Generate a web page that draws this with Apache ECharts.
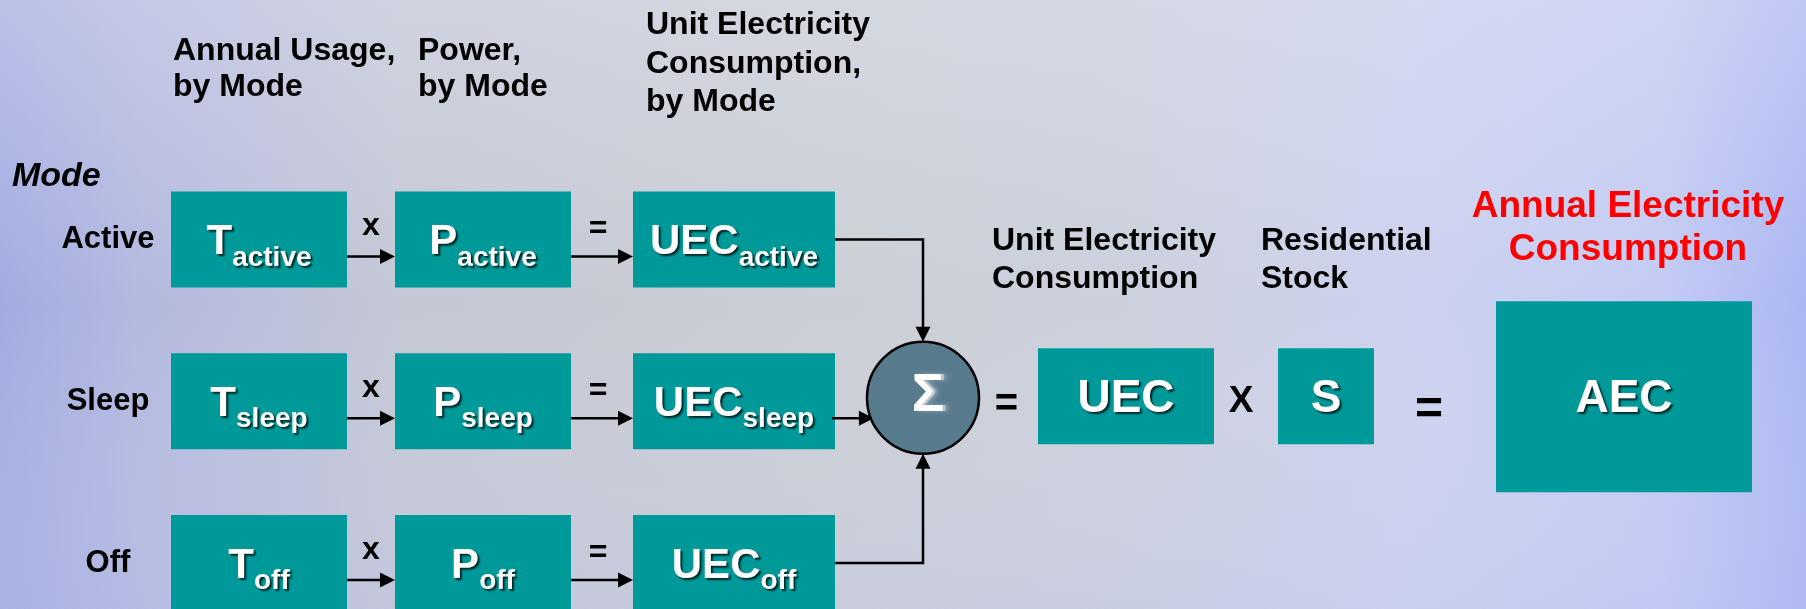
<!DOCTYPE html>
<html><head><meta charset="utf-8">
<script src="https://cdn.jsdelivr.net/npm/echarts@6/dist/echarts.min.js"></script>
<style>html,body{margin:0;padding:0;background:#c8cbd6;}#chart{width:1806px;height:609px;}</style>
</head><body><div id="chart"></div>
<script>
// ---- content ----
const modes = ['Active', 'Sleep', 'Off'];
const modeSubscripts = ['active', 'sleep', 'off'];
const factorSymbols = ['T', 'P', 'UEC'];
const factorHeaders = ['Annual Usage,\nby Mode', 'Power,\nby Mode', 'Unit Electricity\nConsumption,\nby Mode'];
const rowOperators = ['x', '='];
const modeTitle = 'Mode';
const sumSymbol = 'Σ';
const totalSymbols = ['UEC', 'S', 'AEC'];
const totalHeaders = ['Unit Electricity\nConsumption', 'Residential\nStock', 'Annual Electricity\nConsumption'];
const totalOperators = ['=', 'X', '='];

// ---- layout / style ----
const FONT = '"Liberation Sans", Arial, Helvetica, sans-serif';
const TEAL = '#009999';
const BOX_H = 96;
const COLS = [{x: 171, w: 176}, {x: 395, w: 176}, {x: 633, w: 202}];
const HUB_X = 923, HUB_R = 56;
const GRID_LEFT = 170;
const HEAD_L = 15, HEAD_W = 7.5;

const mctx = document.createElement('canvas').getContext('2d');
function tw(t, size) { mctx.font = 'bold ' + size + 'px ' + FONT; return mctx.measureText(t).width; }
const SHADOW = {textShadowColor: 'rgba(0,0,0,0.75)', textShadowBlur: 2, textShadowOffsetX: 2, textShadowOffsetY: 2};
function whiteText(t, x, y, size, align) {
  return {type: 'text', style: Object.assign({text: t, x: x, y: y, font: 'bold ' + size + 'px ' + FONT,
    fill: '#fff', align: align || 'center', verticalAlign: 'middle'}, SHADOW)};
}
function blackText(t, x, y, size, align) {
  return {type: 'text', style: {text: t, x: x, y: y, font: 'bold ' + size + 'px ' + FONT,
    fill: '#000', align: align || 'center', verticalAlign: 'middle'}};
}
function subLabel(main, sub, cx, rc) {
  const w1 = tw(main, 42), w2 = tw(sub, 28);
  const left = cx - (w1 + w2) / 2;
  return [whiteText(main, left, rc + 3, 42, 'left'), whiteText(sub, left + w1, rc + 18.5, 28, 'left')];
}
function arrowHead(x2, y2, ux, uy) {
  const bx = x2 - ux * HEAD_L, by = y2 - uy * HEAD_L;
  return {type: 'polygon', shape: {points: [[x2, y2], [bx - uy * HEAD_W, by + ux * HEAD_W], [bx + uy * HEAD_W, by - ux * HEAD_W]]}, style: {fill: '#000'}};
}
function line(points) {
  return {type: 'polyline', shape: {points: points}, style: {stroke: '#000', lineWidth: 2.5, fill: null}};
}

function hubCenter(api) {
  const y = api.coord([GRID_LEFT, 1])[1];
  return [HUB_X, y - 3.5];
}

function renderRow(params, api) {
  const i = params.dataIndex;
  const rc = api.coord([api.value(0), api.value(1)])[1];
  const ch = [];
  COLS.forEach(function (c, k) {
    ch.push({type: 'rect', shape: {x: c.x, y: rc - BOX_H / 2, width: c.w, height: BOX_H}, style: {fill: TEAL}});
    subLabel(factorSymbols[k], modeSubscripts[i], c.x + c.w / 2, rc).forEach(function (e) { ch.push(e); });
  });
  for (let k = 0; k < 2; k++) {
    const x1 = COLS[k].x + COLS[k].w, x2 = COLS[k + 1].x, ay = rc + 17;
    ch.push(line([[x1, ay], [x2 - HEAD_L + 1, ay]]));
    ch.push(arrowHead(x2, ay, 1, 0));
    const ox = k === 0 ? (x1 + x2) / 2 : (x1 + x2) / 2 - 4;
    ch.push(blackText(rowOperators[k], ox, rc - (k === 0 ? 13 : 10), 32));
  }
  const hc = hubCenter(api);
  const xr = COLS[2].x + COLS[2].w;
  if (i === 0) {
    const top = hc[1] - HUB_R;
    ch.push(line([[xr, rc], [HUB_X, rc], [HUB_X, top - HEAD_L + 1]]));
    ch.push(arrowHead(HUB_X, top, 0, 1));
  } else if (i === 2) {
    const bot = hc[1] + HUB_R;
    ch.push(line([[xr, rc], [HUB_X, rc], [HUB_X, bot + HEAD_L - 1]]));
    ch.push(arrowHead(HUB_X, bot, 0, -1));
  } else {
    const ay = rc + 17;
    const dy = ay - hc[1];
    const tipX = HUB_X - Math.sqrt(HUB_R * HUB_R - dy * dy) + 3;
    ch.push(line([[xr - 3, ay], [tipX - HEAD_L + 1, ay]]));
    ch.push(arrowHead(tipX, ay, 1, 0));
  }
  return {type: 'group', children: ch};
}

function renderHub(params, api) {
  const hc = hubCenter(api);
  const cy = hc[1];
  const ch = [];
  ch.push({type: 'circle', shape: {cx: HUB_X, cy: cy, r: HUB_R}, style: {fill: '#587a8d', stroke: '#000', lineWidth: 2.5}});
  ch.push({type: 'text', style: {text: sumSymbol, x: HUB_X + 8, y: cy - 2, font: 'bold 54px ' + FONT, fill: 'rgba(255,255,255,0.45)',
    align: 'center', verticalAlign: 'middle', textShadowColor: 'rgba(255,255,255,0.6)', textShadowBlur: 4, textShadowOffsetX: 3}});
  ch.push({type: 'text', style: {text: sumSymbol, x: HUB_X + 5, y: cy - 2, font: 'bold 54px ' + FONT, fill: '#fff',
    align: 'center', verticalAlign: 'middle'}});
  // = UEC x S = AEC
  ch.push(blackText(totalOperators[0], 1006.5, cy + 7.5, 40));
  const boxes = [{x: 1038, w: 176, y: cy - 49.5, h: 96}, {x: 1278, w: 96, y: cy - 49.5, h: 96}, {x: 1496, w: 256, y: cy - 96.5, h: 191}];
  boxes.forEach(function (b, k) {
    ch.push({type: 'rect', shape: {x: b.x, y: b.y, width: b.w, height: b.h}, style: {fill: TEAL}});
    ch.push(whiteText(totalSymbols[k], b.x + b.w / 2, cy + 1.5, 46));
  });
  ch.push(blackText(totalOperators[1], 1241, cy + 4, 37));
  ch.push(blackText(totalOperators[2], 1429, cy + 13, 48));
  return {type: 'group', children: ch};
}

const chart = echarts.init(document.getElementById('chart'), null, {renderer: 'canvas'});
const HDR = 'bold 32px ' + FONT;
const graphic = [
  {type: 'rect', z: -10, shape: {x: 0, y: 0, width: 1806, height: 609}, style: {fill: {type: 'linear', x: 0, y: 0, x2: 1, y2: 0,
    colorStops: [{offset: 0, color: '#a2abe0'}, {offset: 0.08, color: '#b3b9df'}, {offset: 0.22, color: '#c4c7d4'},
      {offset: 0.45, color: '#cbced4'}, {offset: 0.62, color: '#ccd0dc'}, {offset: 0.78, color: '#ccd2ee'},
      {offset: 0.92, color: '#c3cbf4'}, {offset: 1, color: '#abb6f2'}]}}},
  {type: 'rect', z: -9, shape: {x: 0, y: 0, width: 1806, height: 609}, style: {fill: {type: 'linear', x: 0, y: 0, x2: 0, y2: 1,
    colorStops: [{offset: 0, color: 'rgba(230,232,245,0.35)'}, {offset: 0.5, color: 'rgba(230,232,245,0)'}, {offset: 1, color: 'rgba(190,196,240,0.25)'}]}}},
  {type: 'text', z: 5, style: {text: factorHeaders[0], x: 173, y: 69, font: HDR, fill: '#000', align: 'left', verticalAlign: 'middle', lineHeight: 35.5}},
  {type: 'text', z: 5, style: {text: factorHeaders[1], x: 418, y: 69, font: HDR, fill: '#000', align: 'left', verticalAlign: 'middle', lineHeight: 35.5}},
  {type: 'text', z: 5, style: {text: factorHeaders[2], x: 646, y: 64, font: HDR, fill: '#000', align: 'left', verticalAlign: 'middle', lineHeight: 38.5}},
  {type: 'text', z: 5, style: {text: modeTitle, x: 12, y: 177, font: 'italic bold 34px ' + FONT, fill: '#000', align: 'left', verticalAlign: 'middle'}},
  {type: 'text', z: 5, style: {text: totalHeaders[0], x: 992, y: 260, font: HDR, fill: '#000', align: 'left', verticalAlign: 'middle', lineHeight: 38}},
  {type: 'text', z: 5, style: {text: totalHeaders[1], x: 1261, y: 260, font: HDR, fill: '#000', align: 'left', verticalAlign: 'middle', lineHeight: 38}},
  {type: 'text', z: 5, style: {text: totalHeaders[2], x: 1628, y: 228, font: 'bold 37px ' + FONT, fill: '#ff0000', align: 'center', verticalAlign: 'middle', lineHeight: 43}}
];

chart.setOption({
  animation: false,
  graphic: graphic,
  grid: {left: GRID_LEFT, right: 0, top: 239.5, bottom: 46, outerBoundsMode: 'none', containLabel: false},
  xAxis: {type: 'value', min: GRID_LEFT, max: 1806, show: false},
  yAxis: {type: 'category', data: modes, inverse: true, boundaryGap: false,
    axisLine: {show: false}, axisTick: {show: false}, splitLine: {show: false},
    axisLabel: {margin: 62, align: 'center', verticalAlign: 'middle', padding: [8, 0, 0, 0], fontSize: 31, fontWeight: 'bold', color: '#000', fontFamily: FONT}},
  series: [
    {type: 'custom', clip: false, renderItem: renderRow, encode: {x: 0, y: 1},
      data: modes.map(function (m, i) { return [GRID_LEFT, i]; }), z: 3},
    {type: 'custom', clip: false, renderItem: renderHub, encode: {x: 0, y: 1},
      data: [[GRID_LEFT, 1]], z: 4}
  ]
});
</script></body></html>
